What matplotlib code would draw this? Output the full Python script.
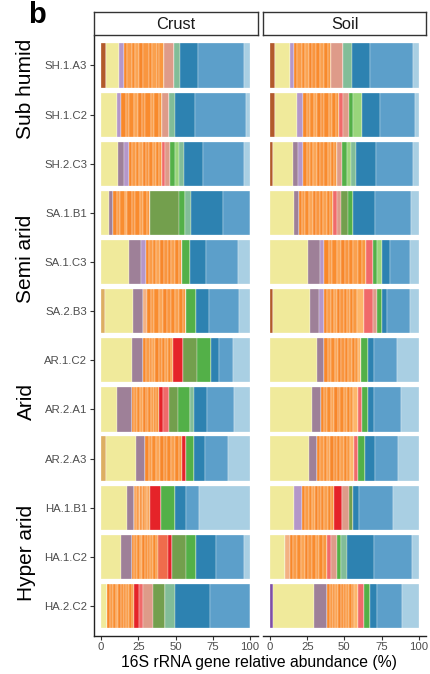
import matplotlib
matplotlib.use("Agg")
import matplotlib.pyplot as plt
import matplotlib.transforms as mtransforms
import numpy as np

plt.rcParams['font.family'] = ['Liberation Sans', 'DejaVu Sans']

samples = ["SH.1.A3", "SH.1.C2", "SH.2.C3", "SA.1.B1", "SA.1.C3", "SA.2.B3",
           "AR.1.C2", "AR.2.A1", "AR.2.A3", "HA.1.B1", "HA.1.C2", "HA.2.C2"]
groups = ["Sub humid", "Semi arid", "Arid", "Hyper arid"]
group_label_y = [0.48, 3.94, 6.83, 9.93]
facets = ["Crust", "Soil"]
xticks = [0, 25, 50, 75, 100]

# Relative abundance (%) per taxon: first 12 values = Crust, next 12 = Soil
brown = [3.6, 0, 0, 0, 0, 0, 0, 0, 0, 0, 0, 0,
         3.6, 3.4, 2.2, 0, 0, 2.2, 0, 0, 0, 0, 0, 0]
tan = [0, 0, 0, 0, 0, 2.7, 0, 0, 3.1, 0, 0, 0,
       0, 0, 0, 0, 0, 0, 0, 0, 0, 0, 0, 0]
purple = [0, 0, 0, 0, 0, 0, 0, 0, 0, 0, 0, 0,
          0, 0, 0, 0, 0, 0, 0, 0, 0, 0, 0, 2.2]
yellow = [8.7, 10.5, 11.4, 5.4, 19, 19, 20.8, 10.7, 20.6, 17.7, 13.2, 4.3,
          9.6, 15, 13.3, 15.9, 25.3, 24.7, 31.4, 28, 26.2, 16.4, 10.1, 27.6]
mauve = [0, 0, 4, 2.4, 7.8, 6.7, 7.6, 10.1, 6.1, 4.2, 7.4, 0,
         0, 0, 3.3, 3.4, 8.3, 6.3, 5.1, 6.3, 5.6, 0, 0, 8.3]
lavender = [3.1, 3.1, 3.6, 0, 3.2, 0, 0, 0, 0, 0, 0, 0,
            2.7, 3.6, 3.6, 0, 2.9, 3.1, 0, 0, 0, 5.3, 0, 0]
peach = [0, 0, 0, 0, 0, 2.6, 0, 0, 0, 0, 0, 0,
         0, 0, 0, 0, 0, 0, 0, 0, 0, 0, 3, 0]
orange1 = [2.1, 3.1, 1.8, 2.7, 2.3, 2.8, 1.9, 1.6, 2.5, 1.2, 1.8, 1.9,
           2.4, 2.6, 2.2, 2.3, 2.9, 2.1, 2.3, 2.2, 2.1, 2.0, 2.6, 1.9]
orange2 = [3.4, 2.0, 2.6, 2.2, 2.9, 2.1, 2.4, 2.1, 2.0, 0.9, 1.5, 1.6,
           2.9, 2.1, 2.6, 2.0, 2.5, 2.4, 2.5, 2.0, 2.4, 2.3, 2.3, 2.1]
orange3 = [1.8, 3.6, 2.1, 3.1, 1.8, 3.2, 1.6, 1.9, 2.9, 1.3, 2.0, 2.2,
           2.0, 2.8, 1.9, 2.6, 3.1, 2.0, 2.1, 2.5, 2.0, 1.9, 2.8, 1.7]
orange4 = [3.0, 2.4, 2.9, 1.9, 2.7, 2.5, 2.2, 1.5, 2.3, 1.0, 1.7, 1.7,
           2.7, 2.3, 2.5, 2.4, 2.6, 2.3, 2.4, 2.1, 2.3, 2.2, 2.4, 2.0]
orange5 = [2.6, 2.9, 1.6, 2.8, 2.5, 2.9, 2.5, 2.2, 2.6, 1.4, 2.1, 2.0,
           2.3, 2.7, 2.3, 2.2, 2.8, 2.2, 2.2, 2.3, 2.2, 2.1, 2.5, 1.8]
orange6 = [3.9, 1.9, 2.4, 2.4, 3.0, 2.2, 1.8, 1.7, 1.9, 0.8, 1.6, 1.8,
           3.0, 2.0, 2.1, 2.7, 3.0, 2.5, 2.6, 1.9, 2.5, 2.4, 2.7, 2.2]
orange7 = [2.2, 3.8, 2.7, 3.3, 1.9, 3.0, 2.3, 2.0, 3.1, 1.2, 1.9, 1.5,
           2.2, 2.9, 2.7, 2.1, 2.4, 1.9, 2.0, 2.4, 2.0, 1.8, 2.2, 1.6]
orange8 = [2.9, 2.5, 1.9, 2.0, 2.6, 2.4, 1.7, 1.6, 2.4, 1.1, 1.8, 2.1,
           2.8, 2.4, 2.0, 2.5, 3.2, 2.3, 2.4, 2.2, 2.2, 2.3, 2.6, 1.9]
orange9 = [1.7, 3.2, 2.2, 2.6, 2.4, 2.7, 2.0, 1.8, 2.8, 1.0, 1.9, 1.7,
           2.5, 2.5, 2.4, 2.3, 2.7, 2.1, 2.2, 2.0, 2.1, 2.0, 2.4, 1.8]
orange10 = [3.3, 2.2, 1.5, 2.1, 2.0, 2.2, 1.5, 1.5, 2.3, 1.1, 1.6, 1.6,
            2.6, 2.3, 2.0, 2.2, 2.7, 2.1, 2.2, 2.1, 2.2, 2.1, 2.5, 1.6]
light_orange = [0, 0, 0, 0, 0, 0, 0, 0, 0, 0, 0, 0,
                0, 0, 0, 0, 0, 5.0, 1.8, 3, 2.7, 0, 0, 2.7]
coral = [0, 0, 0, 0, 0, 0, 0, 0, 0, 0, 6.7, 0,
         0, 0, 0, 0, 0, 0, 0, 0, 0, 0, 0, 0]
red = [0, 0, 0, 0, 0, 0, 7, 3.1, 2.4, 7.6, 2.2, 3.3,
       0, 0, 0, 0, 0, 0, 0, 0, 0, 5.4, 0, 0]
salmon = [0, 0, 2.5, 0, 0, 0, 0, 3.8, 0, 0, 0, 2.7,
          0, 2.5, 0, 2.5, 4.6, 5.9, 0, 2.7, 2.5, 0, 2.9, 3.8]
pink = [6.7, 4.7, 3.1, 0, 0, 0, 0, 0, 0, 0, 0, 6.3,
        8, 4.2, 3.1, 2.6, 0, 2.6, 0, 0, 0, 4.7, 4.1, 0]
olive = [0, 0, 0, 19.7, 0, 0, 9.1, 6.3, 0, 0, 9.4, 8.3,
         0, 0, 0, 4.8, 0, 0, 0, 0, 0, 2.7, 0, 0]
green = [0, 0, 3.1, 3.8, 5.4, 6.8, 9.4, 7.8, 5.6, 9.4, 7, 0,
         0, 2.5, 3.6, 3.3, 3.2, 3.4, 4.5, 4, 5.1, 0, 2.9, 4.3]
light_green = [0, 0, 2.9, 0, 0, 0, 0, 0, 0, 0, 0, 0,
               0, 5.9, 2.9, 0, 3.1, 0, 0, 0, 0, 0, 0, 0]
sea_green = [4, 3.5, 3.4, 4.2, 0, 0, 0, 2.7, 0, 0, 0, 6.4,
             5.8, 0, 3.1, 0, 0, 0, 0, 0, 0, 0, 3.8, 0]
dark_blue = [12, 13.7, 13, 21.1, 10.8, 8.7, 5.6, 8.7, 7.4, 6.9, 13.2, 23.8,
             12.1, 12.1, 13.3, 14.6, 5.4, 3.4, 4.2, 4.2, 6.3, 4.3, 18.4, 4.7]
mid_blue = [31.2, 34.2, 27.5, 18.3, 21.6, 20.1, 9.4, 18.4, 15.4, 9.2, 18.8, 26.8,
            29, 23.7, 24.9, 24.2, 13.7, 15.6, 15.3, 18.2, 15.7, 22.6, 25.1, 16.4]
light_blue = [3.8, 2.7, 3.8, 0, 8.1, 7.4, 11.2, 10.5, 14.6, 34, 4.2, 0,
              3.8, 2.5, 4, 5.4, 5.6, 5.9, 14.8, 11.9, 13.9, 17.5, 4.7, 11.4]

taxa = [brown, tan, purple, yellow, mauve, lavender, peach,
        orange1, orange2, orange3, orange4, orange5,
        orange6, orange7, orange8, orange9, orange10,
        light_orange, coral, red, salmon, pink, olive, green,
        light_green, sea_green, dark_blue, mid_blue, light_blue]
taxa_colors = ["#B25A2B", "#DDAE62", "#7E4FA6", "#F0EA9B", "#9E8098", "#B497C9", "#F3B183",
               "#F8882A", "#FA9C48", "#F98D30", "#FBA555", "#F7872B",
               "#F99640", "#F98B2E", "#FAA04E", "#F88A2C", "#F9983F",
               "#FDB66A", "#EF6C4C", "#E52329", "#F06A6A", "#DE9B89", "#739F4D", "#53B048",
               "#99D57B", "#82BD98", "#2D82B1", "#5C9FCA", "#A9CFE3"]

W, H = 430, 674
fig = plt.figure(figsize=(W / 100, H / 100), dpi=100)

def fx(px):
    return px / W

def fy(py):
    return 1 - py / H

panel_x = [(93.5, 257.5), (262.6, 426.2)]
panel_top, panel_bot = 36.0, 635.5
strip_top, strip_bot = 12.0, 34.7

ypos = np.arange(len(samples))
axes = []
for f, facet in enumerate(facets):
    x0, x1 = panel_x[f]
    ax = fig.add_axes([fx(x0), fy(panel_bot), fx(x1 - x0), (panel_bot - panel_top) / H])
    axes.append(ax)
    left = np.zeros(len(samples))
    for vals, col in zip(taxa, taxa_colors):
        v = np.array(vals[f * 12:(f + 1) * 12], dtype=float)
        ax.barh(ypos, v, left=left, height=0.9, color=col,
                edgecolor="white", linewidth=0.2)
        left += v
    ax.set_xlim(-5, 105)
    ax.set_ylim(len(samples) - 0.4, -0.6)
    ax.set_xticks(xticks)
    ax.set_xticklabels([str(t) for t in xticks], fontsize=8.2, color="#4D4D4D")
    ax.tick_params(axis="x", length=3, width=0.8, color="#333333", pad=1.5)
    for s in ["top", "right"]:
        ax.spines[s].set_visible(False)
    ax.spines["bottom"].set_linewidth(1.0)
    ax.spines["bottom"].set_color("#222222")
    if f == 0:
        ax.set_yticks(ypos)
        ax.set_yticklabels(samples, fontsize=8.2, color="#4D4D4D")
        ax.tick_params(axis="y", length=3, width=0.8, color="#333333", pad=1.5)
        ax.spines["left"].set_linewidth(1.0)
        ax.spines["left"].set_color("#222222")
    else:
        ax.set_yticks([])
        ax.spines["left"].set_visible(False)
    # facet strip
    sx0 = x0 + 0.5
    sax = fig.add_axes([fx(sx0), fy(strip_bot), fx(x1 - sx0), (strip_bot - strip_top) / H])
    sax.set_xticks([])
    sax.set_yticks([])
    for s in sax.spines.values():
        s.set_color("#333333")
        s.set_linewidth(1.0)
    sax.text(0.5, 0.45, facet, ha="center", va="center", fontsize=11.8,
             color="#1A1A1A", transform=sax.transAxes)

trans = mtransforms.blended_transform_factory(fig.transFigure, axes[0].transData)
for g, gy in zip(groups, group_label_y):
    fig.text(fx(26), gy, g, rotation=90, ha="center", va="center",
             fontsize=15, color="black", transform=trans)

fig.text(fx(259), fy(662), "16S rRNA gene relative abundance (%)",
         ha="center", va="center", fontsize=11.3, color="black")
fig.text(fx(37), fy(15), "b", ha="center", va="center", fontsize=21,
         fontweight="bold", color="black")

fig.savefig("out.png", dpi=100)
